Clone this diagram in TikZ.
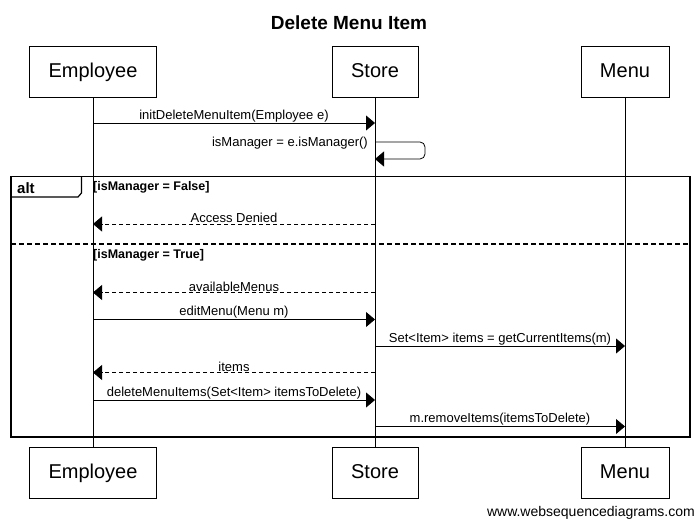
\documentclass[tikz,border=0pt]{standalone}
\usepackage{fontspec}
\setmainfont{Liberation Sans}
\usetikzlibrary{arrows.meta}

\begin{document}
\begin{tikzpicture}[x=1pt, y=-1pt,
  actor/.style={draw, line width=0.8pt, inner xsep=19pt, minimum height=51pt, text height=14pt, text depth=1pt, font=\fontsize{20}{24}\selectfont},
  lbl/.style={above=0.5pt, inner sep=0pt, font=\fontsize{13}{15}\selectfont},
  call/.style={line width=0.8pt, -{Triangle[length=9pt,width=15pt]}},
  reply/.style={call, dash pattern=on 4pt off 3pt},
  guard/.style={anchor=base west, inner sep=0pt, font=\bfseries\fontsize{12.5}{14}\selectfont}]
  \useasboundingbox (0,0) rectangle (697,521);
  \node[font=\bfseries\fontsize{19}{23}\selectfont] (title) at (349,23) {Delete Menu Item};
  \foreach \p/\x/\t in {emp/93/Employee, store/375/Store, menu/625/Menu} {
    \node[actor] (\p) at (\x,71.5) {\t};
    \node[actor] (bot-\p) at (\x,472.5) {\t};
    \draw[line width=0.8pt] (\p) -- (bot-\p);
  }
  % messages
  \foreach \a/\b/\y/\s/\t [count=\i] in {
    emp/store/123/call/{initDeleteMenuItem(Employee e)},
    store/emp/224/reply/{Access Denied},
    store/emp/292.5/reply/{availableMenus},
    emp/store/319.5/call/{editMenu(Menu m)},
    store/menu/346/call/{Set<Item> items = getCurrentItems(m)},
    store/emp/372.5/reply/{items},
    emp/store/400/call/{deleteMenuItems(Set<Item> itemsToDelete)},
    store/menu/426.5/call/{m.removeItems(itemsToDelete)}} {
    \coordinate (\a\i) at (\a |- 0,\y);
    \coordinate (\b\i) at (\b |- 0,\y);
    \draw[\s] (\a\i) -- node[lbl] (msg\i) {\t} (\b\i);
  }
  \coordinate (self1) at (store |- 0,142);
  \coordinate (self2) at (store |- 0,159);
  \draw[call, rounded corners=5pt] (self1) -- ++(50,0) -- ++(0,17) -- (self2);
  \node[inner sep=0pt, anchor=base east, font=\fontsize{13}{15}\selectfont] (selflbl) at ([xshift=-7pt, yshift=-5pt]self1) {isManager = e.isManager()};
  % alt frame
  \draw[line width=1.5pt] (11,176.5) rectangle (690,437);
  \draw[line width=1.2pt] (11,197) -- (78,197) -- (81.5,193) -- (81.5,176.5);
  \node[anchor=base west, inner sep=0pt, font=\bfseries\fontsize{15}{18}\selectfont] (alt) at (17,193.5) {alt};
  \draw[line width=1.5pt, dash pattern=on 5pt off 3pt] (11,244) -- (690,244);
  \node[guard] (g1) at (93,190.5) {[isManager = False]};
  \node[guard] (g2) at (93,258.5) {[isManager = True]};
  \node[anchor=base east, inner sep=0pt, font=\fontsize{14}{16}\selectfont] (wsd) at (695,517) {www.websequencediagrams.com};
\end{tikzpicture}
\end{document}
